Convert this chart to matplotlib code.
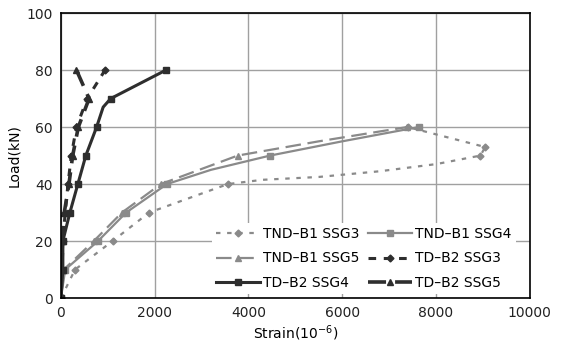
import matplotlib
matplotlib.use('Agg')
import matplotlib.pyplot as plt

# TND-B1 (gray) series
tnd_ssg3_x = [0, 300, 1100, 1880, 3560, 4300, 5500, 6800, 8000, 8950, 9050, 7400]
tnd_ssg3_y = [0, 10, 20, 30, 40, 41.5, 42.5, 44.5, 47, 50, 53, 60]
tnd_ssg3_mk = [0, 1, 2, 3, 4, 9, 10, 11]

tnd_ssg4_x = [0, 90, 790, 1390, 2260, 3200, 4460, 6000, 7630]
tnd_ssg4_y = [0, 10, 20, 30, 40, 45, 50, 55, 60]
tnd_ssg4_mk = [0, 1, 2, 3, 4, 6, 8]

tnd_ssg5_x = [0, 60, 700, 1300, 2130, 3770, 5500, 7380]
tnd_ssg5_y = [0, 10, 20, 30, 40, 50, 55, 60]
tnd_ssg5_mk = [0, 1, 2, 3, 4, 5, 7]

# TD-B2 (black) series
td_ssg3_x = [0, 10, 40, 90, 150, 220, 330, 560, 940]
td_ssg3_y = [0, 10, 20, 30, 40, 50, 60, 70, 80]

td_ssg4_x = [0, 40, 40, 190, 360, 530, 760, 900, 1060, 2240]
td_ssg4_y = [0, 10, 20, 30, 40, 50, 60, 67, 70, 80]
td_ssg4_mk = [0, 1, 2, 3, 4, 5, 6, 8, 9]

td_ssg5_x = [0, 15, 40, 70, 170, 250, 370, 600, 330]
td_ssg5_y = [0, 10, 20, 30, 40, 50, 60, 70, 80]

gray = '#8a8a8a'
dark = '#2e2e2e'

fig = plt.figure(figsize=(5.62, 3.54), dpi=100)
ax = fig.add_axes([0.1085, 0.158, 0.834, 0.805])

h1, = ax.plot(tnd_ssg3_x, tnd_ssg3_y, color=gray, lw=1.6, ls=(0, (2, 3)),
              marker='D', ms=3.5, markevery=tnd_ssg3_mk, label='TND\u2013B1 SSG3')
h2, = ax.plot(tnd_ssg4_x, tnd_ssg4_y, color=gray, lw=1.6, ls='-',
              marker='s', ms=4.5, markevery=tnd_ssg4_mk, label='TND\u2013B1 SSG4')
h3, = ax.plot(tnd_ssg5_x, tnd_ssg5_y, color=gray, lw=1.6, ls=(0, (7, 3)),
              marker='^', ms=4.5, markevery=tnd_ssg5_mk, label='TND\u2013B1 SSG5')
h4, = ax.plot(td_ssg3_x, td_ssg3_y, color=dark, lw=2.2, ls=(0, (2.5, 2.5)),
              marker='D', ms=3.5, label='TD\u2013B2 SSG3')
h5, = ax.plot(td_ssg4_x, td_ssg4_y, color=dark, lw=2.2, ls='-',
              marker='s', ms=4, markevery=td_ssg4_mk, label='TD\u2013B2 SSG4')
h6, = ax.plot(td_ssg5_x, td_ssg5_y, color=dark, lw=2.6, ls=(0, (5, 2.5)),
              marker='^', ms=4.5, label='TD\u2013B2 SSG5')

ax.set_xlim(0, 10000)
ax.set_ylim(0, 100)
ax.set_xticks(range(0, 10001, 2000))
ax.set_yticks(range(0, 101, 20))
ax.grid(True, color='#a0a0a0', lw=1.0)
ax.set_axisbelow(True)
ax.tick_params(length=0, labelsize=10, pad=6, colors='#222222')
for s in ax.spines.values():
    s.set_color('black')
    s.set_linewidth(1.2)

ax.set_xlabel('Strain(10$^{-6}$)', fontsize=10, labelpad=2)
ax.set_ylabel('Load(kN)', fontsize=10, labelpad=4)

order = [h1, h3, h5, h2, h4, h6]
leg = ax.legend(order, [h.get_label() for h in order],
                ncol=2, loc='lower right', bbox_to_anchor=(0.985, -0.01),
                frameon=True, fontsize=10, handlelength=3.2, handletextpad=0.2,
                columnspacing=0.6, labelspacing=0.75, borderpad=0.3)
leg.get_frame().set_edgecolor('none')
leg.get_frame().set_facecolor('white')
leg.get_frame().set_alpha(1)
leg.get_frame().set_boxstyle('square', pad=0)

fig.savefig('out.png', dpi=100)
